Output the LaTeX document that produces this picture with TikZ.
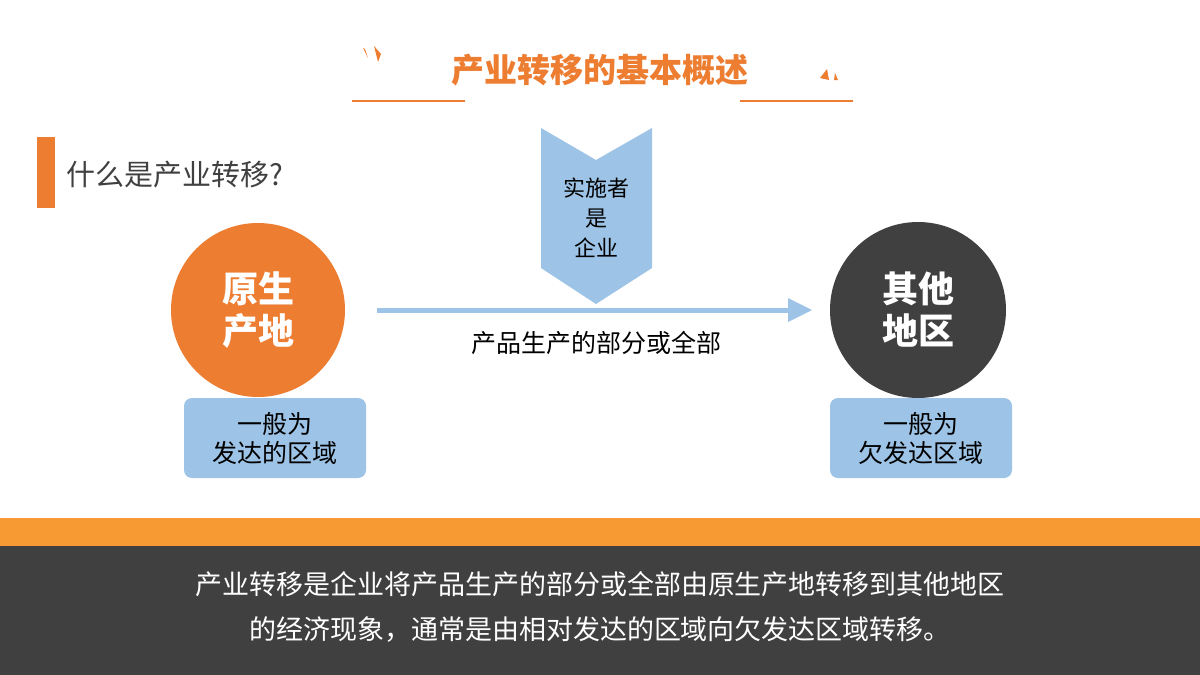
\documentclass[tikz,border=0pt]{standalone}
\usepackage{fontspec}
\setmainfont{Noto Sans CJK SC}
\usetikzlibrary{positioning}
\definecolor{myorange}{HTML}{ED7D31}
\definecolor{myband}{HTML}{F89A34}
\definecolor{mydark}{HTML}{404040}
\definecolor{myblue}{HTML}{9DC3E6}
\begin{document}
\begin{tikzpicture}[x=1pt,y=-1pt,
  region node/.style={circle,minimum size=174pt,inner sep=0pt,text=white,
    align=center,font=\fontsize{36}{42}\selectfont\bfseries},
  label box/.style={fill=myblue,rounded corners=8pt,minimum width=182pt,
    minimum height=80pt,align=center,font=\fontsize{25}{29}\selectfont,text=black}]

\useasboundingbox (0,0) rectangle (1200,675);
\fill[white] (0,0) rectangle (1200,675);

% title
\node[font=\fontsize{33}{38}\selectfont\bfseries,text=myorange] (title) at (600,70) {产业转移的基本概述};
\draw[myorange,line width=1.5pt] (352,101) -- (465,101);
\draw[myorange,line width=1.5pt] (740,101) -- (853,101);
\fill[myorange] (363,48) -- (368,58) -- (365,49) -- cycle;
\fill[myorange] (374,46) -- (381,54) -- (378,62) -- cycle;
\fill[myorange] (820,78) -- (827,69) -- (829,80) -- cycle;
\fill[myorange] (835,73) -- (838,80) -- (834,80) -- cycle;

% question
\fill[myorange] (37,137) rectangle (55,208);
\node[anchor=west,font=\fontsize{29}{34}\selectfont,text=mydark] (question) at (63,175) {什么是产业转移?};

% actor chevron
\fill[myblue] (541,128) -- (596,160) -- (652,128) -- (652,268) -- (596,304) -- (541,268) -- cycle;
\node[align=center,font=\fontsize{22}{30}\selectfont] (actor) at (596,218) {实施者\\是\\企业};

% regions
\node[region node,fill=myorange] (origin) at (258,310) {原生\\产地};
\node[region node,fill=mydark,minimum size=176pt] (other) at (918,310) {其他\\地区};
\node[label box] (originlabel) at (275,438) {一般为\\发达的区域};
\node[label box] (otherlabel) at (921,438) {一般为\\欠发达区域};

% transfer arrow
\coordinate (arrowstart) at (377,310);
\coordinate (arrowend) at (812,310);
\draw[myblue,line width=5pt] (arrowstart) -- (790,310);
\fill[myblue] (arrowend) -- (788,298) -- (788,322) -- cycle;
\node[font=\fontsize{25}{29}\selectfont] (what) at (596,343) {产品生产的部分或全部};

% summary
\fill[myband] (0,518) rectangle (1200,546);
\fill[mydark] (0,546) rectangle (1200,675);
\node[align=center,text=white,font=\fontsize{27}{45}\selectfont] (summary) at (600,607)
  {产业转移是企业将产品生产的部分或全部由原生产地转移到其他地区\\的经济现象，通常是由相对发达的区域向欠发达区域转移。};

\end{tikzpicture}
\end{document}
